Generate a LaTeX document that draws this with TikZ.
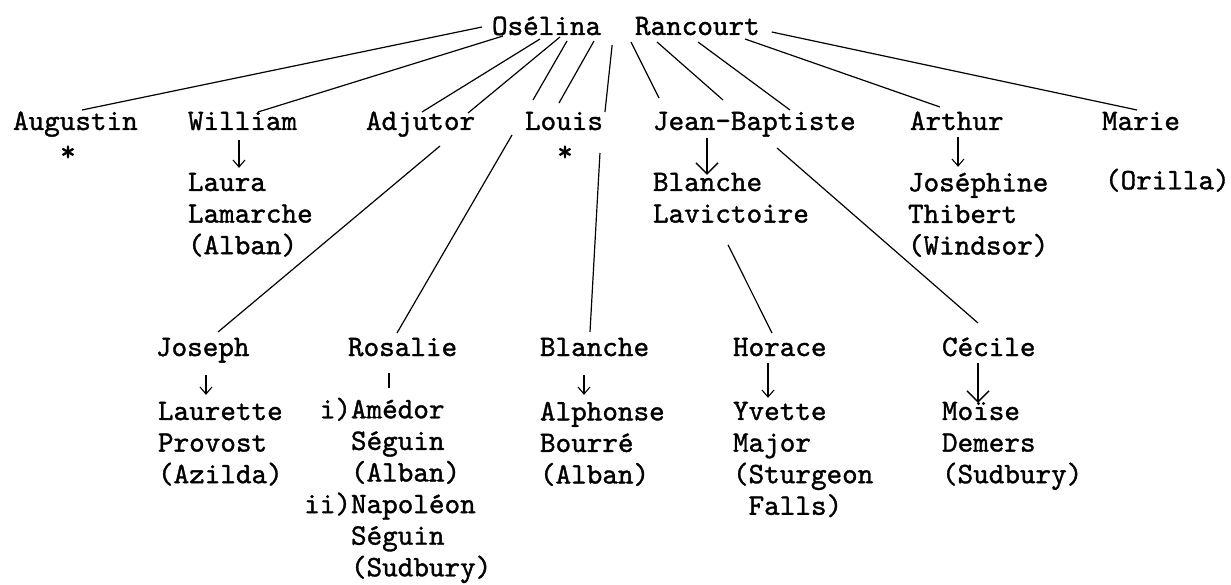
\documentclass[tikz,border=0pt]{standalone}
\usepackage{fontspec}
\setmonofont{lmmono10-regular.otf}[FakeBold=1.2]
\usetikzlibrary{arrows.meta}
\begin{document}
\begin{tikzpicture}[x=1pt,y=-1pt,
  who/.style={font=\ttfamily\fontsize{29.7}{31.6}\selectfont,inner sep=0pt,outer sep=0pt,anchor=base west},
  kids/.style={who,anchor=north west,align=left},
  kin/.style={line width=1.2pt},
  wed/.style={line width=1.1pt,-{Straight Barb[length=7pt,width=12pt]}},
  bigwed/.style={line width=1.4pt,-{Straight Barb[length=11pt,width=22pt]}}]
 \useasboundingbox (0,0) rectangle (1231,585);
 \node[who] (osel) at (492,35) {Osélina};
 \node[who] (ranc) at (635,35) {Rancourt};
 \node[who] (augustin) at (13,130) {Augustin};
 \node[who] (william) at (188,130) {William};
 \node[who] (adjutor) at (366,130) {Adjutor};
 \node[who] (louis) at (525,130) {Louis};
 \node[who] (jeanbap) at (653,130) {Jean-Baptiste};
 \node[who] (arthur) at (910,130) {Arthur};
 \node[who] (marie) at (1102,130) {Marie};
 \node[who,anchor=base] (staraug) at (68,161) {*};
 \node[who,anchor=base] (starlou) at (565,161) {*};
 \node[kids] (laura) at (188,172.85) {Laura\\Lamarche\\(Alban)};
 \node[kids] (blanchel) at (653,172.85) {Blanche\\Lavictoire};
 \node[kids] (josephine) at (908,172.85) {Joséphine\\Thibert\\(Windsor)};
 \node[kids] (orilla) at (1105,168.7) {(Orilla)};
 \node[who] (joseph) at (156,356) {Joseph};
 \node[who] (rosalie) at (348,356) {Rosalie};
 \node[who] (blanche) at (540,356) {Blanche};
 \node[who] (horace) at (733,356) {Horace};
 \node[who] (cecile) at (942,356) {Cécile};
 \node[kids] (laurette) at (158,401.85) {Laurette\\Provost\\(Azilda)};
 \node[kids] (amedor) at (351,397.7) {\llap{i)}Amédor\\Séguin\\(Alban)\\\llap{ii)}Napoléon\\Séguin\\(Sudbury)};
 \node[kids] (alphonse) at (540,401.85) {Alphonse\\Bourré\\(Alban)};
 \node[kids] (yvette) at (733,401.85) {Yvette\\Major\\(Sturgeon\\\hphantom{(}Falls)};
 \node[kids] (moise) at (942,401.85) {Moïse\\Demers\\(Sudbury)};
 \draw[kin] ([xshift=-10pt,yshift=8pt]osel.base west) -- ([xshift=69pt,yshift=20pt]augustin.base west);
 \draw[kin] ([xshift=11pt,yshift=-1pt]osel.base west) -- ([xshift=70pt,yshift=18pt]william.base west);
 \draw[kin] ([xshift=48pt,yshift=-4pt]osel.base west) -- ([xshift=56pt,yshift=18pt]adjutor.base west);
 \draw[kin] ([xshift=68pt,yshift=-2pt]osel.base west) -- ([xshift=102pt,yshift=17pt]adjutor.base west);
 \draw[kin] ([xshift=74pt,yshift=-16pt]adjutor.base west) -- ([xshift=62pt,yshift=24pt]joseph.base west);
 \draw[kin] ([xshift=75pt,yshift=-6pt]osel.base west) -- ([xshift=8pt,yshift=30pt]louis.base west);
 \draw[kin] ([xshift=-13pt,yshift=-5pt]louis.base west) -- ([xshift=49pt,yshift=23pt]rosalie.base west);
 \draw[kin] ([xshift=102pt,yshift=-6pt]osel.base west) -- ([xshift=34pt,yshift=27pt]louis.base west);
 \draw[kin] ([xshift=11pt,yshift=-10pt]osel.base east) -- ([xshift=2pt,yshift=18pt]louis.base east);
 \draw[kin] ([xshift=-3pt,yshift=-23pt]louis.base east) -- ([xshift=50pt,yshift=24pt]blanche.base west);
 \draw[kin] ([xshift=-4pt,yshift=-7pt]ranc.base west) -- ([xshift=6pt,yshift=32pt]jeanbap.base west);
 \draw[kin] ([xshift=75pt,yshift=-22pt]blanchel.south west) -- ([xshift=39pt,yshift=23pt]horace.base west);
 \draw[kin] ([xshift=22pt,yshift=-7pt]ranc.base west) -- ([xshift=70pt,yshift=30pt]jeanbap.base west);
 \draw[kin] ([xshift=63pt,yshift=-7pt]ranc.base west) -- ([xshift=137pt,yshift=20pt]jeanbap.base west);
 \draw[kin] ([xshift=124pt,yshift=-18pt]jeanbap.base west) -- ([xshift=36pt,yshift=33pt]cecile.base west);
 \draw[kin] ([xshift=110pt,yshift=-4pt]ranc.base west) -- ([xshift=30pt,yshift=23pt]arthur.base west);
 \draw[kin] ([xshift=12pt,yshift=3pt]ranc.base east) -- ([xshift=35pt,yshift=20pt]marie.base west);
 \draw[wed] ([xshift=51pt,yshift=-10pt]william.base west) -- ([xshift=51pt,yshift=5pt]laura.north west);
 \draw[bigwed] ([xshift=54pt,yshift=-8pt]jeanbap.base west) -- ([xshift=54pt,yshift=-2pt]blanchel.north west);
 \draw[wed] ([xshift=48pt,yshift=-7pt]arthur.base west) -- ([xshift=50pt,yshift=6pt]josephine.north west);
 \draw[wed] ([xshift=50pt,yshift=-19pt]joseph.base west) -- ([xshift=48pt,yshift=7pt]laurette.north west);
 \draw[kin] ([xshift=41pt,yshift=-17pt]rosalie.base west) -- ([xshift=38pt,yshift=10pt]amedor.north west);
 \draw[wed] ([xshift=44pt,yshift=-19pt]blanche.base west) -- ([xshift=44pt,yshift=7pt]alphonse.north west);
 \draw[wed] ([xshift=35pt,yshift=-7pt]horace.base west) -- ([xshift=35pt,yshift=4pt]yvette.north west);
 \draw[bigwed] ([xshift=36pt,yshift=-7pt]cecile.base west) -- ([xshift=36pt,yshift=-1pt]moise.north west);
\end{tikzpicture}
\end{document}
